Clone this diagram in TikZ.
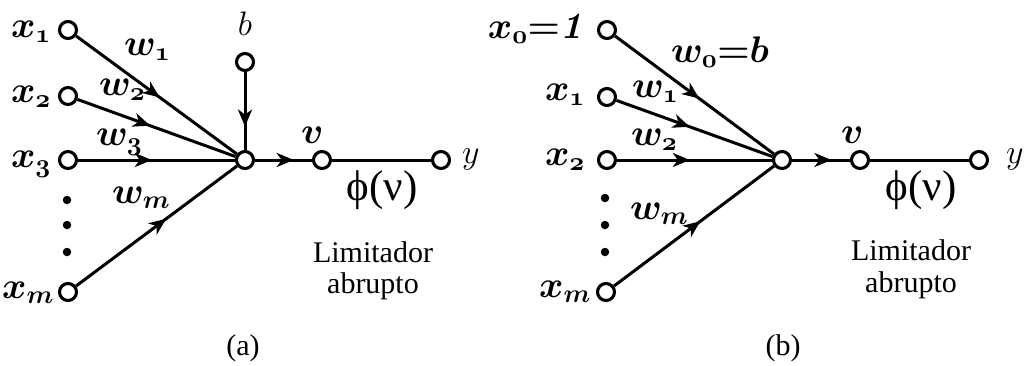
\RequirePackage{fix-cm}
\documentclass[tikz,border=0pt]{standalone}
\usepackage[no-math]{fontspec}
\usepackage{bm}
\usetikzlibrary{arrows.meta,decorations.markings}
\newfontfamily\tnr{Liberation Serif}
\begin{document}
\begin{tikzpicture}[x=1pt,y=-1pt,
  nd/.style={circle,draw,fill=white,line width=3.1pt,minimum size=17pt,inner sep=0pt},
  dotn/.style={circle,fill,minimum size=8.5pt,inner sep=0pt},
  wire/.style={line width=3pt},
  midarr/.style={postaction={decorate},decoration={markings,mark=at position #1 with {\arrow{Stealth[length=17pt,width=14pt,inset=5pt]}}}},
  ml/.style={font=\fontsize{37}{40}\selectfont,inner sep=0pt},
  sl/.style={font=\fontsize{34}{38}\selectfont,inner sep=0pt},
  tl/.style={font=\tnr\fontsize{30}{32}\selectfont,inner sep=0pt},
  gl/.style={font=\tnr\fontsize{43}{45}\selectfont,inner sep=0pt}
]
\useasboundingbox (0,0) rectangle (1024,365);

% ---------------- panel (a) ----------------
\node[nd] (a1) at (68,30) {};
\node[nd] (a2) at (68,96) {};
\node[nd] (a3) at (68,160) {};
\node[nd] (am) at (68,292) {};
\node[nd] (ab) at (245,62) {};
\node[nd] (ah) at (245,160) {};
\node[nd] (av) at (322,160) {};
\node[nd] (ay) at (441,160) {};
\node[dotn] (ad1) at (67,200) {};
\node[dotn] (ad2) at (67,225) {};
\node[dotn] (ad3) at (67,252) {};

\draw[wire,midarr=0.52] (a1) -- (ah);
\draw[wire,midarr=0.46] (a2) -- (ah);
\draw[wire,midarr=0.47] (a3) -- (ah);
\draw[wire,midarr=0.56] (am) -- (ah);
\draw[wire,midarr=0.7] (ab) -- (ah);
\draw[wire,midarr=0.68] (ah) -- (av);
\draw[wire] (av) -- (ay);

\node[ml,anchor=base east] (lx1) at (51,37) {$\bm{x}_{\bm{\mathnormal{1}}}$};
\node[ml,anchor=base east] (lx2) at (51,102) {$\bm{x}_{\bm{\mathnormal{2}}}$};
\node[ml,anchor=base east] (lx3) at (51,167) {$\bm{x}_{\bm{\mathnormal{3}}}$};
\node[ml,anchor=base east] (lxm) at (54,298) {$\bm{x}_{\bm{m}}$};
\node[ml,anchor=base west] (lw1) at (124,55) {$\bm{w}_{\bm{\mathnormal{1}}}$};
\node[ml,anchor=base west] (lw2) at (99,95) {$\bm{w}_{\bm{\mathnormal{2}}}$};
\node[ml,anchor=base west] (lw3) at (96,145) {$\bm{w}_{\bm{\mathnormal{3}}}$};
\node[ml,anchor=base west] (lwm) at (112,203) {$\bm{w}_{\bm{m}}$};
\node[sl,anchor=base] (lb) at (245,35) {$b$};
\node[ml,anchor=base west] (lva) at (301,143) {$\bm{v}$};
\node[sl,anchor=base west] (lya) at (462,163) {$y$};
\node[gl] (lphia) at (382,190) {ϕ(ν)};
\node[tl,anchor=base] (lla1) at (373,262) {Limitador};
\node[tl,anchor=base] (lla2) at (373,293) {abrupto};
\node[tl] (lcapa) at (243,348) {(a)};

% ---------------- panel (b) ----------------
\node[nd] (b0) at (607,30) {};
\node[nd] (b1) at (607,97) {};
\node[nd] (b2) at (607,160) {};
\node[nd] (bm) at (606,292) {};
\node[nd] (bh) at (782,160) {};
\node[nd] (bv) at (860,160) {};
\node[nd] (by) at (979,160) {};
\node[dotn] (bd1) at (605,198) {};
\node[dotn] (bd2) at (605,225) {};
\node[dotn] (bd3) at (605,252) {};

\draw[wire,midarr=0.53] (b0) -- (bh);
\draw[wire,midarr=0.47] (b1) -- (bh);
\draw[wire,midarr=0.47] (b2) -- (bh);
\draw[wire,midarr=0.54] (bm) -- (bh);
\draw[wire,midarr=0.68] (bh) -- (bv);
\draw[wire] (bv) -- (by);

\node[ml,anchor=base east] (lx0) at (587,38) {$\bm{x}_{\bm{\mathnormal{0}}}{\bm{=}}\bm{\mathit{1}}$};
\node[ml,anchor=base east] (lbx1) at (585,100) {$\bm{x}_{\bm{\mathnormal{1}}}$};
\node[ml,anchor=base east] (lbx2) at (585,165) {$\bm{x}_{\bm{\mathnormal{2}}}$};
\node[ml,anchor=base east] (lbxm) at (591,297) {$\bm{x}_{\bm{m}}$};
\node[ml,anchor=base west] (lw0) at (671,62) {$\bm{w}_{\bm{\mathnormal{0}}}{\bm{=}}\bm{b}$};
\node[ml,anchor=base west] (lbw1) at (632,97) {$\bm{w}_{\bm{\mathnormal{1}}}$};
\node[ml,anchor=base west] (lbw2) at (631,145) {$\bm{w}_{\bm{\mathnormal{2}}}$};
\node[ml,anchor=base west] (lbwm) at (630,219) {$\bm{w}_{\bm{m}}$};
\node[ml,anchor=base west] (lvb) at (841,143) {$\bm{v}$};
\node[sl,anchor=base west] (lyb) at (1006,163) {$y$};
\node[gl] (lphib) at (921,190) {ϕ(ν)};
\node[tl,anchor=base] (llb1) at (911,260) {Limitador};
\node[tl,anchor=base] (llb2) at (911,292) {abrupto};
\node[tl] (lcapb) at (783,348) {(b)};
\end{tikzpicture}
\end{document}
